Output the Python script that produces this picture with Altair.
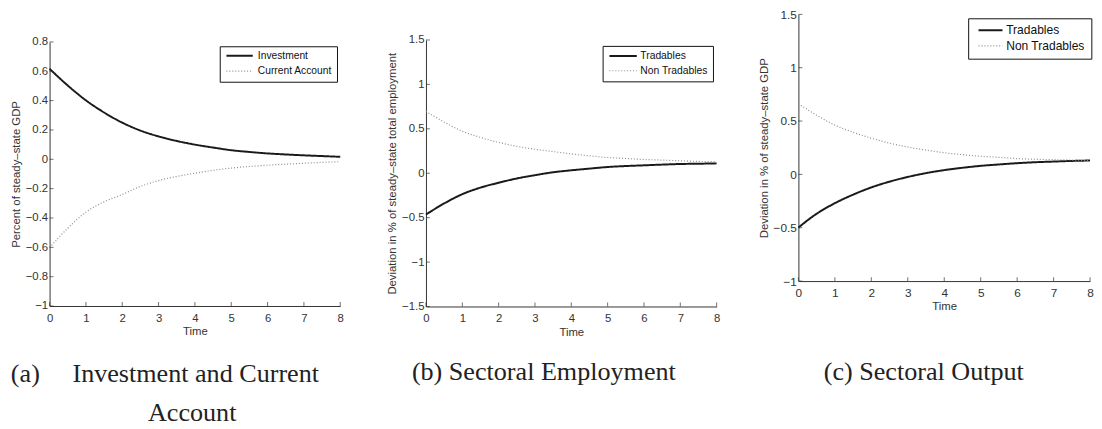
import altair as alt
import pandas as pd

# ---------------- data ----------------
T = [0, 0.5, 1, 1.5, 2, 2.5, 3, 3.5, 4, 4.5, 5, 5.5, 6, 6.5, 7, 7.5, 8]

INVESTMENT = [0.617, 0.503, 0.402, 0.319, 0.250, 0.196, 0.156, 0.125, 0.100,
              0.080, 0.062, 0.050, 0.040, 0.033, 0.027, 0.022, 0.017]
CURRENT_ACCOUNT = [-0.602, -0.470, -0.360, -0.290, -0.240, -0.185, -0.145, -0.117, -0.095,
                   -0.075, -0.060, -0.049, -0.040, -0.033, -0.027, -0.021, -0.016]

EMP_TRADABLES = [-0.465, -0.340, -0.236, -0.162, -0.107, -0.059, -0.022, 0.011, 0.033,
                 0.052, 0.070, 0.081, 0.089, 0.097, 0.104, 0.107, 0.111]
EMP_NONTRADABLES = [0.695, 0.576, 0.473, 0.403, 0.347, 0.303, 0.270, 0.244, 0.218,
                    0.196, 0.177, 0.166, 0.155, 0.148, 0.140, 0.133, 0.130]

OUT_TRADABLES = [-0.498, -0.369, -0.270, -0.190, -0.122, -0.068, -0.024, 0.012, 0.040,
                 0.062, 0.080, 0.093, 0.105, 0.114, 0.120, 0.126, 0.130]
OUT_NONTRADABLES = [0.662, 0.555, 0.462, 0.395, 0.339, 0.293, 0.256, 0.228, 0.203,
                    0.185, 0.170, 0.160, 0.148, 0.142, 0.138, 0.134, 0.130]

SERIES_A = ["Investment", "Current Account"]
SERIES_BC = ["Tradables", "Non Tradables"]

X_TICKS = [0, 1, 2, 3, 4, 5, 6, 7, 8]
Y_TICKS_A = [-1, -0.8, -0.6, -0.4, -0.2, 0, 0.2, 0.4, 0.6, 0.8]
Y_TICKS_B = [-1.5, -1, -0.5, 0, 0.5, 1, 1.5]
Y_TICKS_C = [-1, -0.5, 0, 0.5, 1, 1.5]

X_TITLE = "Time"
Y_TITLE_A = "Percent of steady\u2013state GDP"
Y_TITLE_B = "Deviation in % of steady\u2013state total employment"
Y_TITLE_C = "Deviation in % of steady\u2013state GDP"

NB = "\u00a0"
ZW = "\u200b"
CAPTION_A = ["(a)" + NB * 5 + "Investment and Current", ZW + NB * 21 + "Account"]
CAPTION_B = ["(b) Sectoral Employment"]
CAPTION_C = ["(c) Sectoral Output"]

SANS = "Liberation Sans"
SERIF = "Liberation Serif"
INK = "#333333"

INDEP = dict(color="independent", strokeDash="independent", strokeWidth="independent")


def panel(solid, dotted, names, yticks, ytitle, w, h, tick_fs, leg, cap):
    df = pd.DataFrame({
        "t": T + T,
        "v": solid + dotted,
        "s": [names[0]] * len(T) + [names[1]] * len(T),
    })
    xs = alt.Scale(domain=[X_TICKS[0], X_TICKS[-1]], nice=False, zero=False)
    ys = alt.Scale(domain=[yticks[0], yticks[-1]], nice=False, zero=False)

    common_axis = dict(grid=False, ticks=False, tickSize=0, domainColor=INK, domainWidth=1,
                       labelFont=SANS, labelFontSize=tick_fs, labelColor=INK,
                       labelFlush=False, labelOverlap=False, format="~g",
                       titleFont=SANS, titleFontSize=11.5, titleFontWeight="normal",
                       titleColor=INK)
    xaxis = alt.Axis(values=X_TICKS, title=X_TITLE, labelPadding=6.5, titlePadding=2,
                     **common_axis)
    yaxis = alt.Axis(values=yticks, title=ytitle, labelPadding=2, titlePadding=4,
                     **common_axis)

    legend = alt.Legend(title=None, orient="none", legendX=leg["x"], legendY=leg["y"],
                        strokeColor="#111111", fillColor="white", padding=leg["pad"],
                        symbolType=leg["path"], symbolSize=64, labelOffset=leg["lo"],
                        labelFont=SANS, labelFontSize=leg["fs"], labelColor="#111111",
                        rowPadding=leg["rp"])

    lines = alt.Chart(df).mark_line(interpolate="monotone").encode(
        x=alt.X("t:Q", scale=xs, axis=xaxis),
        y=alt.Y("v:Q", scale=ys, axis=yaxis),
        color=alt.Color("s:N", scale=alt.Scale(domain=names, range=["#1a1a1a", "#8c8c8c"]),
                        legend=legend),
        strokeDash=alt.StrokeDash("s:N", scale=alt.Scale(domain=names, range=[[1, 0], [1, 2]]),
                                  legend=legend),
        strokeWidth=alt.StrokeWidth("s:N", scale=alt.Scale(domain=names, range=[2, 1.2]),
                                    legend=legend),
    )

    xt = alt.Chart(pd.DataFrame({"t": X_TICKS})).mark_tick(
        orient="vertical", size=4, thickness=1, yOffset=-2, color=INK
    ).encode(x=alt.X("t:Q", scale=xs, axis=xaxis),
             y=alt.YDatum(yticks[0], scale=ys, axis=yaxis))

    yt = alt.Chart(pd.DataFrame({"v": yticks})).mark_tick(
        orient="horizontal", size=4, thickness=1, xOffset=2, color=INK
    ).encode(y=alt.Y("v:Q", scale=ys, axis=yaxis),
             x=alt.XDatum(X_TICKS[0], scale=xs, axis=xaxis))

    return alt.layer(lines, xt, yt).properties(
        width=w, height=h,
        title=alt.TitleParams(text=cap["text"], orient="bottom", anchor="start", frame="group",
                              align="left", baseline="top", dx=cap["dx"], offset=cap["off"],
                              font=SERIF, fontSize=26.5, fontWeight="normal", color="#222222",
                              lineHeight=40),
    )


def spacer(h):
    return alt.Chart(pd.DataFrame({"z": [0]})).mark_point(opacity=0).encode(
        x=alt.value(0), y=alt.value(0)).properties(width=1, height=h)


panel_a = panel(INVESTMENT, CURRENT_ACCOUNT, SERIES_A, Y_TICKS_A, Y_TITLE_A, 295, 268, 11.5,
                dict(x=172.7, y=4.4, pad=4.5, path="M-0.725,0H5.95", lo=23.8, fs=10.4, rp=4.5),
                dict(text=CAPTION_A, dx=-39.3, off=24.3))
panel_b = panel(EMP_TRADABLES, EMP_NONTRADABLES, SERIES_BC, Y_TICKS_B, Y_TITLE_B, 295, 270.5, 11.5,
                dict(x=179.3, y=6, pad=5, path="M-0.83,0H6.1", lo=22.7, fs=10.5, rp=4),
                dict(text=CAPTION_B, dx=-14.3, off=22.4))
panel_c = panel(OUT_TRADABLES, OUT_NONTRADABLES, SERIES_BC, Y_TICKS_C, Y_TITLE_C, 296, 270.7, 12,
                dict(x=172.3, y=4, pad=6, path="M-0.4,0H5.68", lo=20.4, fs=12.2, rp=2.8),
                dict(text=CAPTION_C, dx=25.7, off=48.2))

col_a = alt.vconcat(spacer(21.5), panel_a, spacing=0).resolve_scale(**INDEP)
col_b = alt.vconcat(spacer(19.9), panel_b, spacing=0).resolve_scale(**INDEP)

chart = alt.hconcat(
    alt.hconcat(col_a, col_b, spacing=43).resolve_scale(**INDEP),
    panel_c,
    spacing=38,
).resolve_scale(**INDEP).properties(
    padding={"left": 2.2, "top": -2.7, "right": 0, "bottom": 0},
    background="white",
).configure_view(stroke=None)

chart.save("out.html", embed_options={"renderer": "svg", "actions": False})
